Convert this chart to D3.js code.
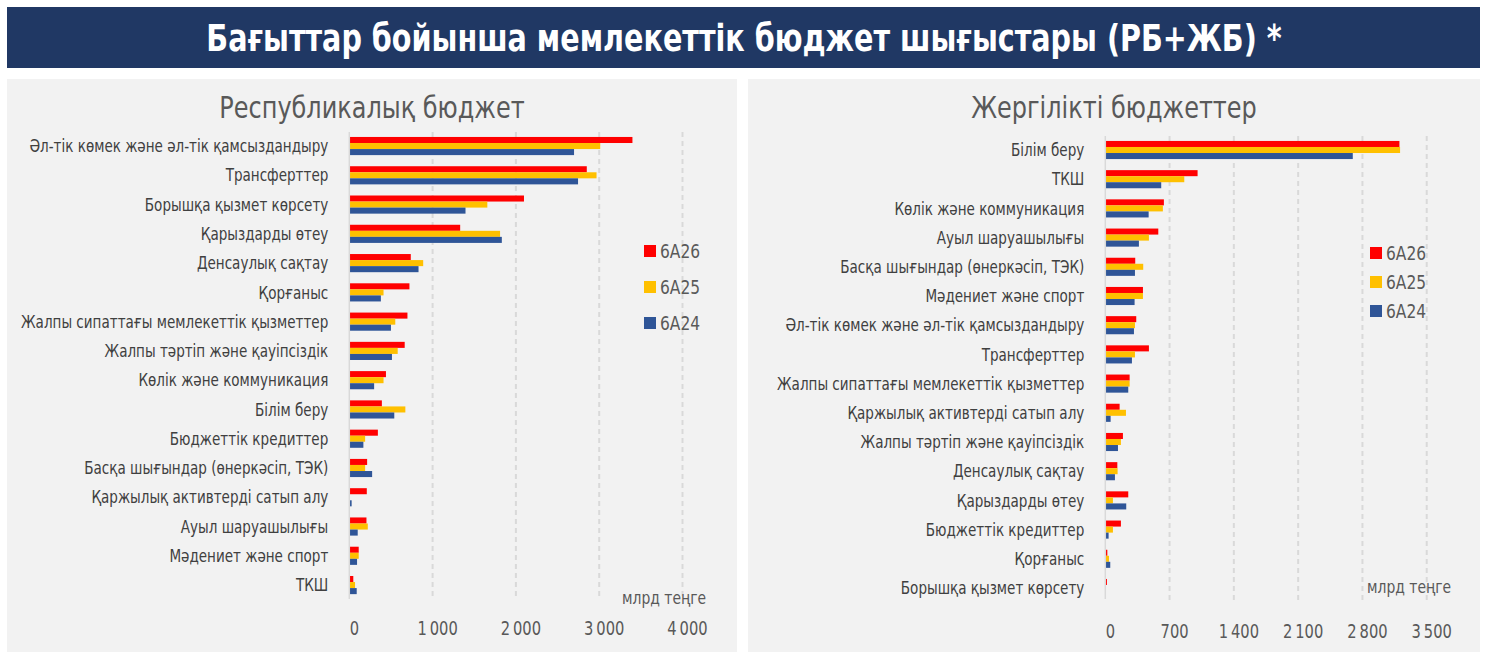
<!DOCTYPE html>
<html>
<head>
<meta charset="utf-8">
<script src="https://cdn.jsdelivr.net/npm/d3@7"></script>
<style>
  body { margin: 0; background: #ffffff; }
  svg text { font-family: "Liberation Sans Narrow", "DejaVu Sans Condensed", "Roboto", sans-serif; }
</style>
</head>
<body>
<div id="chart"></div>
<script>
// series (legend order)
var seriesNames = ["6А26", "6А25", "6А24"];
var seriesColors = ["#ff0000", "#ffc000", "#2f5597"];

// Республикалық бюджет, млрд теңге
var repCategories = [
  "Әл-тік көмек және әл-тік қамсыздандыру", "Трансферттер", "Борышқа қызмет көрсету",
  "Қарыздарды өтеу", "Денсаулық сақтау", "Қорғаныс", "Жалпы сипаттағы мемлекеттік қызметтер",
  "Жалпы тәртіп және қауіпсіздік", "Көлік және коммуникация", "Білім беру",
  "Бюджеттік кредиттер", "Басқа шығындар (өнеркәсіп, ТЭК)", "Қаржылық активтерді сатып алу",
  "Ауыл шаруашылығы", "Мәдениет және спорт", "ТКШ"
];
var rep26 = [3399, 2851, 2097, 1331, 738, 722, 698, 665, 440, 391, 343, 214, 210, 206, 113, 48];
var rep25 = [3012, 2968, 1657, 1810, 887, 411, 552, 581, 411, 673, 190, 190, 8, 222, 113, 69];
var rep24 = [2698, 2746, 1395, 1831, 831, 379, 500, 512, 298, 540, 169, 274, 28, 101, 93, 89];
var repTicks = [0, 1000, 2000, 3000, 4000];

// Жергілікті бюджеттер, млрд теңге
var locCategories = [
  "Білім беру", "ТКШ", "Көлік және коммуникация", "Ауыл шаруашылығы",
  "Басқа шығындар (өнеркәсіп, ТЭК)", "Мәдениет және спорт",
  "Әл-тік көмек және әл-тік қамсыздандыру", "Трансферттер",
  "Жалпы сипаттағы мемлекеттік қызметтер", "Қаржылық активтерді сатып алу",
  "Жалпы тәртіп және қауіпсіздік", "Денсаулық сақтау", "Қарыздарды өтеу",
  "Бюджеттік кредиттер", "Қорғаныс", "Борышқа қызмет көрсету"
];
var loc26 = [3203, 1005, 638, 577, 326, 410, 337, 475, 265, 156, 192, 131, 250, 170, 22, 18];
var loc25 = [3210, 860, 627, 475, 413, 410, 323, 323, 265, 225, 170, 134, 83, 83, 40, 4];
var loc24 = [2695, 609, 472, 366, 323, 319, 312, 290, 250, 58, 138, 105, 228, 36, 54, 4];
var locTicks = [0, 700, 1400, 2100, 2800, 3500];

var W = 1487, H = 659;
var SX = 0.86; // squeeze to mimic the narrow font of the original
var svg = d3.select("#chart").append("svg").attr("width", W).attr("height", H);

// number format with space as thousands separator
var fmt = d3.formatLocale({decimal: ",", thousands: "\u2009", grouping: [3], currency: ["", ""]}).format(",d");

function place(x, y) { return "translate(" + x + "," + y + ") scale(" + SX + ",1)"; }

// title bar
svg.append("rect").attr("x", 7).attr("y", 7).attr("width", 1473).attr("height", 61).attr("fill", "#203864");
svg.append("text").attr("transform", place(744, 51))
  .attr("text-anchor", "middle").attr("fill", "#ffffff")
  .attr("font-size", 37).attr("font-weight", "bold")
  .text("Бағыттар бойынша мемлекеттік бюджет шығыстары (РБ+ЖБ) *");

function drawPanel(p) {
  var g = svg.append("g");
  g.append("rect").attr("x", p.px).attr("y", 79).attr("width", p.pw).attr("height", 573).attr("fill", "#f2f2f2");

  g.append("text").attr("transform", place(p.titleX, 118))
    .attr("text-anchor", "middle").attr("fill", "#595959").attr("font-size", 31)
    .text(p.title);

  var x = d3.scaleLinear().domain([0, p.ticks[p.ticks.length - 1]]).range(p.xRange);
  var y = d3.scaleBand().domain(p.categories).range(p.yRange).paddingInner(0.38).paddingOuter(0.19);
  var ySub = d3.scaleBand().domain(seriesNames).range([0, y.bandwidth()]);

  // grid
  g.selectAll(".grid").data(p.ticks.slice(1)).enter().append("line")
    .attr("x1", function(d) { return x(d); }).attr("x2", function(d) { return x(d); })
    .attr("y1", p.gridTop).attr("y2", 600)
    .attr("stroke", "#d9d9d9").attr("stroke-width", 2).attr("stroke-dasharray", "5,4");

  // bars
  var rows = p.categories.map(function(c, i) {
    return { cat: c, vals: [p.s26[i], p.s25[i], p.s24[i]] };
  });
  var grp = g.selectAll(".row").data(rows).enter().append("g")
    .attr("transform", function(d) { return "translate(0," + y(d.cat) + ")"; });
  grp.selectAll("rect").data(function(d) { return d.vals; }).enter().append("rect")
    .attr("x", x(0))
    .attr("y", function(d, i) { return ySub(seriesNames[i]); })
    .attr("width", function(d) { return x(d) - x(0); })
    .attr("height", ySub.bandwidth())
    .attr("fill", function(d, i) { return seriesColors[i]; });

  // category axis
  g.append("line").attr("x1", x(0)).attr("x2", x(0)).attr("y1", p.gridTop).attr("y2", 599)
    .attr("stroke", "#d9d9d9").attr("stroke-width", 1.5);
  g.selectAll(".cat").data(p.categories).enter().append("text")
    .attr("transform", function(d) { return place(x(0) - 21, y(d) + y.bandwidth() / 2); })
    .attr("dy", "0.35em")
    .attr("text-anchor", "end").attr("fill", "#404040").attr("font-size", 17.5)
    .text(function(d) { return d; });

  // value axis
  var axis = d3.axisBottom(x).tickValues(p.ticks).tickFormat(fmt).tickSize(0).tickPadding(0);
  var ax = g.append("g").attr("transform", "translate(0," + p.tickY + ")").call(axis);
  ax.select(".domain").remove();
  ax.selectAll("text").attr("transform", "translate(4.5,0) scale(" + SX + ",1)")
    .attr("fill", "#595959").attr("font-size", 19)
    .style("font-family", null);

  g.append("text").attr("transform", place(p.unitX, p.unitY))
    .attr("text-anchor", "end").attr("fill", "#595959").attr("font-size", 18)
    .text("млрд теңге");

  // legend
  var lg = g.selectAll(".leg").data(seriesNames).enter().append("g")
    .attr("transform", function(d, i) { return "translate(" + p.legX + "," + (p.legY + i * p.legStep) + ")"; });
  lg.append("rect").attr("x", 0).attr("y", -6).attr("width", 12).attr("height", 12)
    .attr("fill", function(d, i) { return seriesColors[i]; });
  lg.append("text").attr("transform", place(16, 0)).attr("dy", "0.36em")
    .attr("fill", "#595959").attr("font-size", 20)
    .text(function(d) { return d; });
}

drawPanel({
  px: 7, pw: 730, title: "Республикалық бюджет", titleX: 372,
  categories: repCategories, s26: rep26, s25: rep25, s24: rep24, ticks: repTicks,
  xRange: [349.3, 682.5], yRange: [131.4, 599.7], gridTop: 132, tickY: 621,
  unitX: 706, unitY: 604, legX: 644, legY: 251, legStep: 36
});

drawPanel({
  px: 748, pw: 732, title: "Жергілікті бюджеттер", titleX: 1114,
  categories: locCategories, s26: loc26, s25: loc25, s24: loc24, ticks: locTicks,
  xRange: [1105.3, 1426.7], yRange: [135.4, 602.6], gridTop: 136, tickY: 624,
  unitX: 1451, unitY: 593, legX: 1370, legY: 253, legStep: 29
});
</script>
</body>
</html>
